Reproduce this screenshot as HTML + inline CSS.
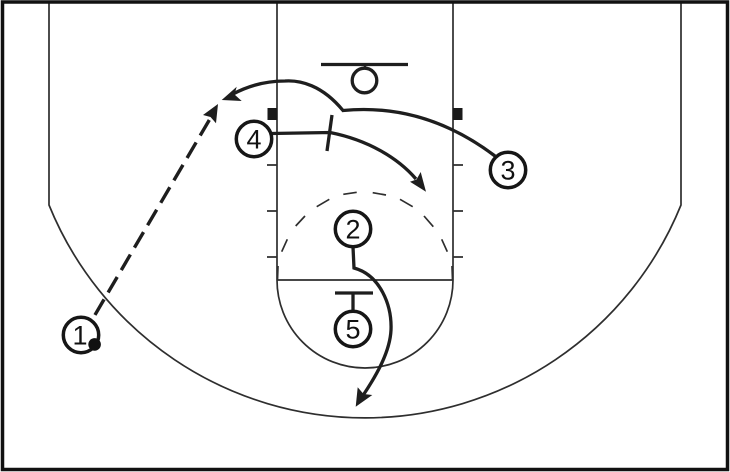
<!DOCTYPE html>
<html>
<head>
<meta charset="utf-8">
<style>
html,body{margin:0;padding:0;background:#fff;width:730px;height:472px;overflow:hidden}
svg{display:block}
text{font-family:"Liberation Sans",Arial,sans-serif;font-size:27px;fill:#111;text-anchor:middle}
</style>
</head>
<body>
<svg width="730" height="472" viewBox="0 0 730 472" xmlns="http://www.w3.org/2000/svg">
<rect width="730" height="472" fill="#fff"/>
<!-- court -->
<g fill="none" stroke="#2e2e2e" stroke-width="1.7">
<path d="M49,2V205A341,341 0 0 0 681,205V2"/>
<path d="M277,2V280M453,2V280M277,280H453"/>
<path d="M277,280A88,88 0 0 0 453,280"/>
<path d="M267,165H277M267,211H277M267,257H277M453,165H463M453,211H463M453,257H463"/>
<path d="M281.700,251.700L287.300,239.300M295.700,226L305,216M316.700,206.700L329.300,199.300M343.300,194.300L356.700,192.300M372.700,192.700L386,195M400,199.300L412.700,206.700M424,216L433.300,226.700M441.700,239.300L447.300,251.700M277.500,280L278,266M452.500,280L452,266"/>
</g>
<rect x="2.500" y="2" width="725" height="467.500" fill="none" stroke="#111" stroke-width="3.500"/>
<rect x="267.500" y="108" width="9.500" height="12" fill="#1a1a1a"/>
<rect x="453" y="108" width="9.500" height="12" fill="#1a1a1a"/>
<!-- hoop -->
<path d="M321,64.500H408" stroke="#1e1e1e" stroke-width="3.200" fill="none"/>
<path d="M365,64.500V70" stroke="#1e1e1e" stroke-width="2.500" fill="none"/>
<circle cx="364.500" cy="80.500" r="12.300" fill="#fff" stroke="#1e1e1e" stroke-width="3.300"/>
<!-- movement -->
<g fill="none" stroke="#1e1e1e" stroke-width="3.300">
<path d="M495,156C450,122 400,105 343,110.500C322,85 300,80 285,81C265,81 248,86 233,94"/>
<path d="M271,133.500L330,132.500C368,140 398,158 416,179"/>
<path d="M332,115L327,151"/>
<path d="M353,247L354,268C380,275 392,305 391,330C390,352 376,376 363.300,395"/>
<path d="M335,293H373"/>
<path d="M353,293V312"/>
<line x1="209.300" y1="120" x2="92" y2="320" stroke-width="3.400" stroke-dasharray="18 8"/>
</g>
<!-- arrowheads -->
<g fill="#1e1e1e">
<path d="M221.700,100L236.700,86.700L234.500,94.500L241.700,101Z"/>
<path d="M426,191.700L410,181.700L416.500,179.500L420.700,172Z"/>
<path d="M355.700,406.700L357.700,387.300L363.500,394L372.300,395Z"/>
<path d="M218,104L203,115L210.500,117L216,123.300Z"/>
</g>
<!-- players -->
<g fill="#fff" stroke="#161616" stroke-width="3.500">
<circle cx="254" cy="139" r="17.700"/>
<circle cx="508" cy="170" r="17.700"/>
<circle cx="353" cy="229" r="17.700"/>
<circle cx="353" cy="329" r="17.700"/>
<circle cx="81" cy="335" r="17.700"/>
</g>
<text x="254" y="148.500">4</text>
<text x="508" y="179.500">3</text>
<text x="353" y="238.500">2</text>
<text x="353" y="338.500">5</text>
<text x="80" y="344.500">1</text>
<circle cx="94.600" cy="344.400" r="6.300" fill="#111"/>
</svg>
</body>
</html>
